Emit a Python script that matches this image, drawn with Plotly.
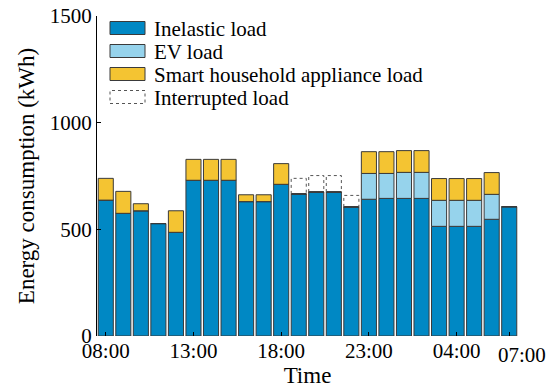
import plotly.graph_objects as go

hours = ["08:00","09:00","10:00","11:00","12:00","13:00","14:00","15:00","16:00","17:00",
         "18:00","19:00","20:00","21:00","22:00","23:00","00:00","01:00","02:00","03:00",
         "04:00","05:00","06:00","07:00"]
inelastic = [637,575,587,527,486,730,730,730,630,630,711,666,675,675,605,641,645,645,645,514,514,514,547,606]
ev_load   = [0,0,0,0,0,0,0,0,0,0,0,0,0,0,0,121,117,122,122,122,122,122,117,0]
smart     = [102,103,33,0,101,98,98,98,32,32,97,0,0,0,0,102,102,102,102,102,102,102,102,0]
interrupted = [0,0,0,0,0,0,0,0,0,0,0,73,77,77,54,0,0,0,0,0,0,0,0,0]
tick_pos = [0, 5, 10, 15, 20, 23]
tick_labels = ["08:00","13:00","18:00","23:00","04:00","07:00"]

C_BLUE = "#0088C4"
C_LBLUE = "#96D3EC"
C_YEL = "#F4C432"
EDGE = "#3a3a3a"
FONT = "Liberation Serif"
W = 0.86

x = list(range(len(hours)))
fig = go.Figure()
base = [0]*len(x)
for name, vals, col in [("Inelastic load", inelastic, C_BLUE),
                        ("EV load", ev_load, C_LBLUE),
                        ("Smart household appliance load", smart, C_YEL)]:
    fig.add_trace(go.Bar(x=x, y=vals, base=base, name=name, width=W,
                         marker=dict(color=col, line=dict(color=EDGE, width=1)),
                         showlegend=False))
    base = [b + v for b, v in zip(base, vals)]

# interrupted load: dotted outline above inelastic load
ox, oy = [], []
for i, v in enumerate(interrupted):
    if v > 0:
        b = inelastic[i]
        ox += [i - W/2, i - W/2, i + W/2, i + W/2, None]
        oy += [b, b + v, b + v, b, None]
fig.add_trace(go.Scatter(x=ox, y=oy, mode="lines", name="Interrupted load",
                         line=dict(color="#555555", width=1, dash="dot"),
                         showlegend=False, hoverinfo="skip"))

# manual legend
L, R, T, B = 97, 518, 16, 336
def px(p): return (p - L) / (R - L)
def py(p): return (B - p) / (B - T)
legend_items = [("Inelastic load", C_BLUE, "solid"),
                ("EV load", C_LBLUE, "solid"),
                ("Smart household appliance load", C_YEL, "solid"),
                ("Interrupted load", "white", "dot")]
centers = [28, 51, 74, 97]
for (lab, col, dash), cy in zip(legend_items, centers):
    fig.add_shape(type="rect", xref="paper", yref="paper",
                  x0=px(110), x1=px(145), y0=py(cy + 6.5), y1=py(cy - 6.5),
                  fillcolor=col,
                  line=dict(color=EDGE if dash == "solid" else "#555555", width=1, dash=dash))
    fig.add_annotation(xref="paper", yref="paper", x=px(152), y=py(cy + 1),
                       text=lab, showarrow=False, xanchor="left", yanchor="middle",
                       font=dict(family=FONT, size=21, color="black"))

# last tick label sits slightly right of its tick in the reference
tick_text_shown = tick_labels[:-1] + [""]
fig.add_annotation(x=tick_pos[-1], xref="x", y=0, yref="paper", yanchor="top",
                   xshift=13, yshift=-5, text=tick_labels[-1], showarrow=False,
                   font=dict(family=FONT, size=21, color="black"))

fig.update_layout(
    width=558, height=391,
    margin=dict(l=97, r=40, t=16, b=55, autoexpand=False),
    plot_bgcolor="white", paper_bgcolor="white",
    barmode="overlay",
    font=dict(family=FONT, size=21, color="black"),
    showlegend=False,
)
fig.update_xaxes(
    range=[-0.5, 23.5], automargin=False,
    tickmode="array", tickvals=tick_pos, ticktext=tick_text_shown,
    tickangle=0,
    ticks="inside", ticklen=4, tickcolor="black",
    showline=False, showgrid=False, zeroline=False,
    title=dict(text="Time", standoff=0, font=dict(family=FONT, size=23)),
    tickfont=dict(family=FONT, size=21),
)
fig.update_yaxes(
    range=[0, 1500], tickvals=[0, 500, 1000, 1500], automargin=False,
    ticks="inside", ticklen=4, tickcolor="black",
    showline=True, linecolor="black", linewidth=1,
    showgrid=False, zeroline=False,
    title=dict(text="Energy consumption (kWh)", standoff=8, font=dict(family=FONT, size=23)),
    tickfont=dict(family=FONT, size=21),
)
fig.write_html("out.html")
